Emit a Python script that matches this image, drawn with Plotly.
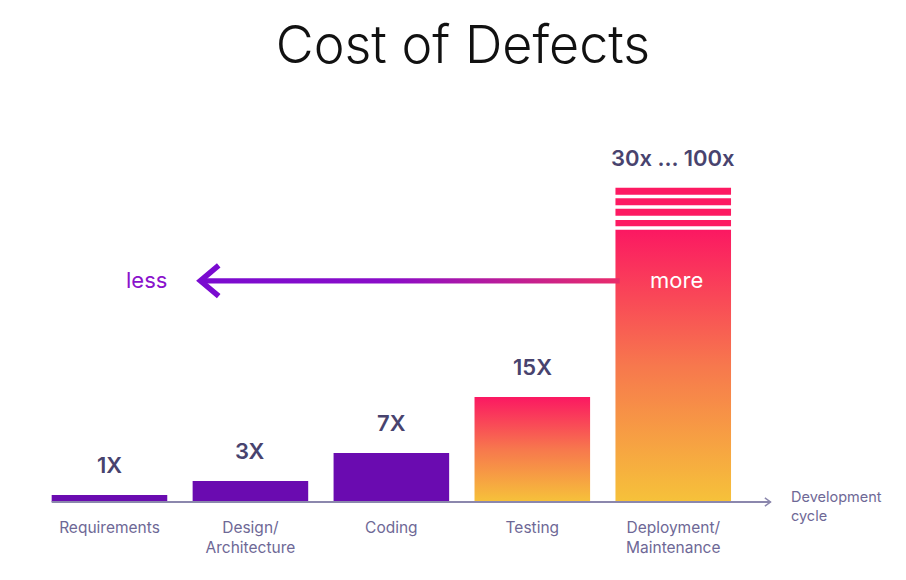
import plotly.graph_objects as go

# ---- data ----
categories = ["Requirements", "Design/<br>Architecture", "Coding", "Testing", "Deployment/<br>Maintenance"]
cost_values = [1, 3, 7, 15, 38.9]
cost_labels = ["1X", "3X", "7X", "15X", "30x … 100x"]
gradient_bars = [False, False, False, True, True]
stripe_bottoms = [39.4, 40.9, 42.4, 43.9]
stripe_tops = [40.3, 41.9, 43.4, 44.9]
arrow_level = 31.6

PURPLE = "#6a0bb0"
PINK = "#fd1a62"
GRAD = [[0, "#f6c23a"], [0.5, "#f7784d"], [1, "#fb1862"]]
LABEL = "#48436e"
TICK = "#6e6896"
AXIS = "#8b87ad"
FONT = "Inter"
BW = 0.82

fig = go.Figure()
xs = list(range(len(categories)))

# purple bars
fig.add_trace(go.Bar(
    x=[x for x, g in zip(xs, gradient_bars) if not g],
    y=[v for v, g in zip(cost_values, gradient_bars) if not g],
    width=BW, marker=dict(color=PURPLE, line=dict(width=0)),
    hoverinfo="skip"))

# gradient bars as filled polygons
for x, v, g in zip(xs, cost_values, gradient_bars):
    if not g:
        continue
    fig.add_trace(go.Scatter(
        x=[x - BW / 2, x + BW / 2, x + BW / 2, x - BW / 2, x - BW / 2],
        y=[0, 0, v, v, 0], mode="lines", line=dict(width=0),
        fill="toself",
        fillgradient=dict(type="vertical", colorscale=GRAD, start=0, stop=v),
        hoverinfo="skip"))

# stripes on top of last bar
fig.add_trace(go.Bar(
    x=[xs[-1]] * len(stripe_bottoms),
    y=[t - b for b, t in zip(stripe_bottoms, stripe_tops)],
    base=stripe_bottoms, width=BW,
    marker=dict(color=PINK, line=dict(width=0)), hoverinfo="skip"))

# arrow shaft (gradient)
x_tip = 0.645
x_end = xs[-1] - BW / 2 + 0.03
h = 0.38
fig.add_trace(go.Scatter(
    x=[x_tip + 0.02, x_end, x_end, x_tip + 0.02, x_tip + 0.02],
    y=[arrow_level - h, arrow_level - h, arrow_level + h, arrow_level + h, arrow_level - h],
    mode="lines", line=dict(width=0), fill="toself",
    fillgradient=dict(type="horizontal",
                      colorscale=[[0, "#7a0bd0"], [0.45, "#8a0cc8"], [1, "#ea2c6a"]],
                      start=x_tip, stop=x_end),
    hoverinfo="skip"))
# arrow head chevron
fig.add_trace(go.Scatter(
    x=[x_tip + 0.13, x_tip, x_tip + 0.13],
    y=[arrow_level + 2.2, arrow_level, arrow_level - 2.2],
    mode="lines", line=dict(color="#7a0bd0", width=5.5), hoverinfo="skip"))

# x axis line with chevron
x_ax0, x_ax1 = -BW / 2, 4.69
fig.add_trace(go.Scatter(x=[x_ax0, x_ax1], y=[0, 0], mode="lines",
                         line=dict(color=AXIS, width=2), hoverinfo="skip"))
fig.add_trace(go.Scatter(x=[x_ax1 - 0.04, x_ax1, x_ax1 - 0.04], y=[0.6, 0, -0.6],
                         mode="lines", line=dict(color=AXIS, width=1.5), hoverinfo="skip"))

# value labels
tops = list(cost_values)
tops[-1] = stripe_tops[-1]
for x, t, lab in zip(xs, tops, cost_labels):
    fig.add_annotation(x=x, y=t, text=lab, showarrow=False, yshift=30,
                       yanchor="middle",
                       font=dict(family=FONT, size=22, color=LABEL, weight=600))

fig.add_annotation(x=0.26, y=arrow_level, text="less", showarrow=False, yshift=1,
                   font=dict(family=FONT, size=22, color="#8a12cc"))
fig.add_annotation(x=xs[-1] + 0.02, y=arrow_level, text="more", showarrow=False, yshift=1,
                   font=dict(family=FONT, size=22, color="white"))
fig.add_annotation(xref="paper", x=1.004, y=-0.57, text="Development<br>cycle",
                   showarrow=False, xanchor="left", yanchor="middle", align="left",
                   font=dict(family=FONT, size=14.5, color=TICK))

fig.update_layout(
    width=906, height=580,
    margin=dict(l=38.5, r=120.2, t=120, b=64, pad=0),
    paper_bgcolor="white", plot_bgcolor="white",
    showlegend=False, barmode="overlay",
    title=dict(text="Cost of Defects", x=463 / 906, xanchor="center", y=1 - 45 / 580,
               yanchor="middle", xref="container", yref="container",
               font=dict(family=FONT, size=52, color="#111111", weight=300)),
    xaxis=dict(range=[-0.5, 4.8], tickvals=xs, ticktext=categories,
               showgrid=False, zeroline=False, showline=False, ticks="",
               tickfont=dict(family=FONT, size=15.5, color=TICK), fixedrange=True),
    yaxis=dict(range=[-2, 54.57], visible=False, fixedrange=True),
)

fig.write_html("out.html")
